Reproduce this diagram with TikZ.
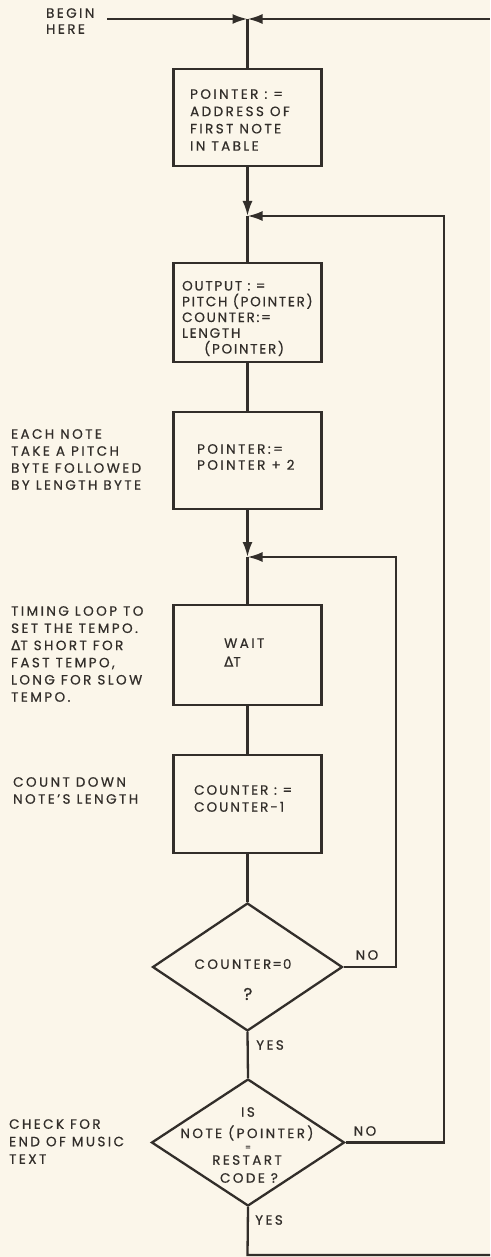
\documentclass[tikz,border=0pt]{standalone}
\usepackage{fontspec}
\setmainfont{Poppins}[LetterSpace=18,FakeBold=0.6]
\newfontfamily\dvf{DejaVu Sans}[FakeBold=0.6]
\usetikzlibrary{arrows.meta,shapes.geometric}
\definecolor{bg}{RGB}{251,246,234}
\definecolor{ink}{RGB}{50,46,42}
\newcommand{\dT}{{\dvf Δ}T}
\begin{document}
\begin{tikzpicture}[x=1pt,y=-1pt,color=ink,line width=2.3pt,
  box/.style={draw=ink,line width=2.3pt,minimum width=148pt,inner sep=0pt},
  dia/.style={draw=ink,line width=2.3pt,diamond,inner sep=0pt,aspect=1.5},
  txt/.style={text=ink,inner sep=0pt,align=left,anchor=west},
  ctxt/.style={text=ink,inner sep=0pt,align=center,anchor=center},
  fs/.style={font=\fontsize{13.5}{#1}\selectfont},
  tip/.style={-{Latex[length=15pt,width=10pt]}}]
\useasboundingbox[fill=bg] (0,0) rectangle (490,1257);
% boxes
\node[box,minimum height=97pt] (b1) at (247.5,117.5) {};
\node[box,minimum height=99pt] (b2) at (247.5,312.5) {};
\node[box,minimum height=97pt] (b3) at (247.5,460.5) {};
\node[box,minimum height=100pt] (b4) at (247.5,655) {};
\node[box,minimum height=98pt] (b5) at (247.5,804) {};
\node[dia,minimum width=190pt,minimum height=128pt] (d1) at (247.5,967) {};
\node[dia,minimum width=193pt,minimum height=127pt] (d2) at (248,1142.5) {};
% box texts
\node[txt,fs=17.3] (t1) at (189,120) {POINTER : =\\ADDRESS OF\\FIRST NOTE\\IN TABLE};
\node[txt,font=\fontsize{13.5}{15.75}\selectfont\addfontfeature{LetterSpace=13}] (t2) at (181,318.5) {OUTPUT : =\\PITCH (POINTER)\\COUNTER:=\\LENGTH\\\hspace*{22pt}(POINTER)};
\node[txt,fs=16] (t3) at (196,457) {POINTER:=\\POINTER + 2};
\node[txt,fs=18.7] (t4) at (223,652.5) {WAIT\\\dT};
\node[txt,font=\fontsize{13.5}{17}\selectfont\addfontfeature{LetterSpace=15}] (t5) at (193,798.5) {COUNTER : =\\COUNTER-1};
% diamond texts
\node[ctxt,fs=17] (q1a) at (243,964) {COUNTER\hspace{1pt}=\hspace{1pt}0};
\node[ctxt,font=\fontsize{17}{17}\selectfont] (q1b) at (248,994) {?};
\node[ctxt,fs=17] (q2a) at (248,1112) {IS};
\node[ctxt,fs=17] (q2b) at (247,1133) {NOTE (POINTER)};
\node[ctxt,font=\fontsize{8}{8}\selectfont] (q2c) at (248,1148) {=};
\node[ctxt,fs=17] (q2d) at (247,1160) {RESTART};
\node[ctxt,fs=17] (q2e) at (249,1178) {CODE ?};
% side notes
\node[txt,fs=16] (n0) at (45,21) {BEGIN\\HERE};
\node[txt,fs=17] (n1) at (10,459.5) {EACH NOTE\\TAKE A PITCH\\BYTE FOLLOWED\\BY LENGTH BYTE};
\node[txt,fs=17.2] (n2) at (10,654) {TIMING LOOP TO\\SET THE TEMPO.\\\dT{} SHORT FOR\\FAST TEMPO,\\LONG FOR SLOW\\TEMPO.};
\node[txt,fs=17] (n3) at (12,790.5) {COUNT DOWN\\NOTE'S LENGTH};
\node[txt,fs=17.5] (n4) at (8,1141.5) {CHECK FOR\\END OF MUSIC\\TEXT};
% branch labels
\node[ctxt,fs=17] (no1) at (367,955) {NO};
\node[ctxt,fs=17] (no2) at (365,1131) {NO};
\node[ctxt,fs=17] (yes1) at (270,1045) {YES};
\node[ctxt,fs=17] (yes2) at (269,1220) {YES};
% connectors
\coordinate (j0) at (247.5,19);
\coordinate (bs) at (107,19);
\coordinate (rt) at (490,19);
\coordinate (j1) at (247.5,216);
\coordinate (j2) at (247.5,557);
\coordinate (bot) at (247.5,1255);
\coordinate (rb) at (490,1255);
\draw[tip] (bs) -- (j0);
\draw[tip] (rt) -- (j0);
\draw (j0) -- (b1.north);
\draw[tip] (b1.south) -- (j1);
\draw (j1) -- (b2.north);
\draw (b2.south) -- (b3.north);
\draw[tip] (b3.south) -- (j2);
\draw (j2) -- (b4.north);
\draw (b4.south) -- (b5.north);
\draw (b5.south) -- (d1.north);
\draw (d1.south) -- (d2.north);
\draw (d2.south) -- (bot) -- (rb);
\draw[tip] (d1.east) -- ++(52,0) |- (j2);
\draw[tip] (d2.east) -- ++(98,0) |- (j1);
\end{tikzpicture}
\end{document}
